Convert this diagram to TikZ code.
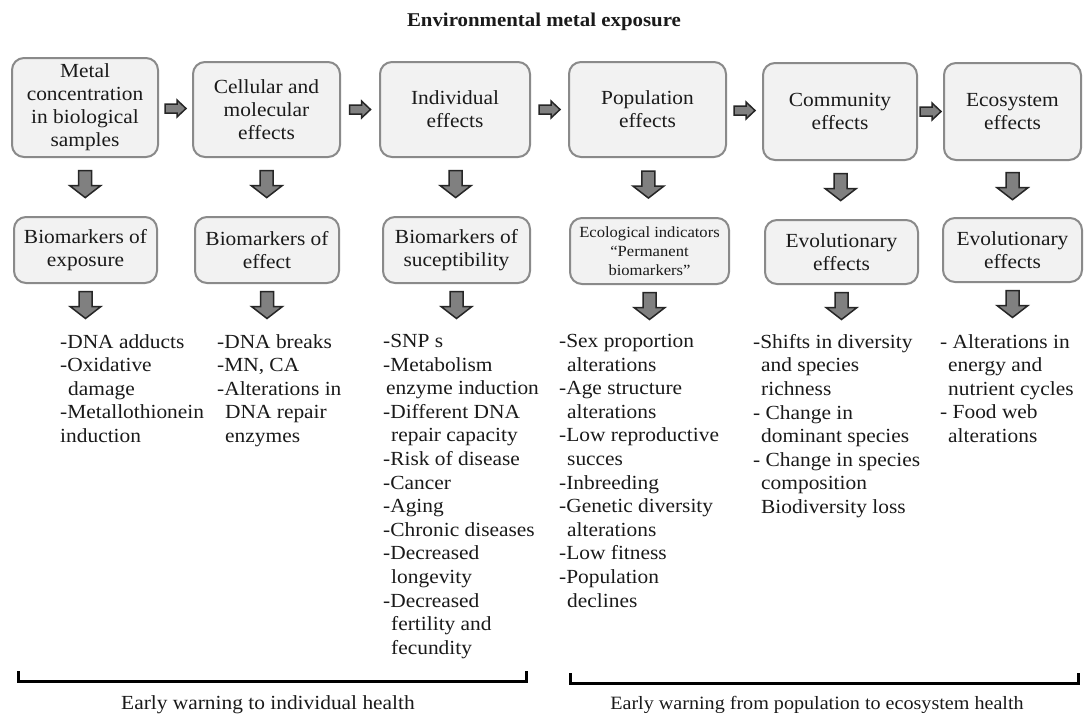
\documentclass[tikz,border=0pt]{standalone}
\usepackage{fontspec}
\setmainfont{Liberation Serif}[FakeStretch=1.07]
\usetikzlibrary{calc}
\definecolor{boxgray}{HTML}{8A8A8A}
\definecolor{boxfill}{HTML}{F2F2F2}
\definecolor{arrfill}{HTML}{808080}
\definecolor{arrline}{HTML}{262626}
\definecolor{txt}{HTML}{1A1A1A}
\newcommand{\lind}{\hspace*{8pt}}
\begin{document}
\begin{tikzpicture}[x=1pt,y=-1pt,
  every node/.style={text=txt},
  topbox/.style={draw=boxgray, line width=2pt, fill=boxfill, rounded corners=12pt,
    align=center, inner sep=0pt, font=\fontsize{20}{23}\selectfont},
  listtext/.style={anchor=north west, align=left, inner sep=0pt,
    font=\fontsize{20}{23.6}\selectfont},
  rarr/.pic={\draw[fill=arrfill, draw=arrline, line width=1.5pt, line join=miter]
    (-10.5,-4.5) -- (1.5,-4.5) -- (1.5,-8.5) -- (10.5,0) -- (1.5,8.5) -- (1.5,4.5) -- (-10.5,4.5) -- cycle;},
  darr/.pic={\draw[fill=arrfill, draw=arrline, line width=1.5pt, line join=miter]
    (-6.5,-13.5) -- (6.5,-13.5) -- (6.5,1.5) -- (15.5,1.5) -- (0,13.5) -- (-15.5,1.5) -- (-6.5,1.5) -- cycle;}
]
\fill[white] (0,0) rectangle (1084,715);

\node[font=\bfseries\fontsize{19.5}{22}\selectfont] (title) at (544,22) {Environmental metal exposure};

% top row
\node[topbox, minimum width=146pt, minimum height=99pt] (B1) at (85,107.5) {Metal\\concentration\\in biological\\samples};
\node[topbox, minimum width=147pt, minimum height=95pt] (B2) at (266.5,109.5) {Cellular and\\molecular\\effects};
\node[topbox, minimum width=150pt, minimum height=95pt] (B3) at (455,109.5) {Individual\\effects};
\node[topbox, minimum width=157pt, minimum height=95pt] (B4) at (647.5,109.5) {Population\\effects};
\node[topbox, minimum width=154pt, minimum height=97pt] (B5) at (840,111.5) {Community\\effects};
\node[topbox, minimum width=137pt, minimum height=97pt] (B6) at (1012.5,111.5) {Ecosystem\\effects};

% second row
\node[topbox, minimum width=143pt, minimum height=66pt] (b1) at (85.5,250) {Biomarkers of\\exposure};
\node[topbox, minimum width=144pt, minimum height=66pt] (b2) at (267,250) {Biomarkers of\\effect};
\node[topbox, minimum width=147pt, minimum height=66pt] (b3) at (456.5,250) {Biomarkers of\\suceptibility};
\node[topbox, minimum width=159pt, minimum height=66pt, font=\fontsize{15.5}{19}\selectfont] (b4) at (649.5,251) {Ecological indicators\\“Permanent\\biomarkers”};
\node[topbox, minimum width=153pt, minimum height=64pt] (b5) at (841.5,252) {Evolutionary\\effects};
\node[topbox, minimum width=139pt, minimum height=64pt] (b6) at (1012.5,250) {Evolutionary\\effects};

% right arrows between top boxes
\pic at ($(B1.east)!0.5!(B2.west)$) {rarr};
\pic at ($(B2.east)!0.5!(B3.west)$) {rarr};
\pic at ($(B3.east)!0.5!(B4.west)$) {rarr};
\pic at ($(B4.east)!0.5!(B5.west)$) {rarr};
\pic at ($(B5.east)!0.5!(B6.west)$) {rarr};

% down arrows
\foreach \i in {1,...,6}{
  \pic at ($(B\i.south)!0.45!(b\i.north)$) {darr};
  \pic at ($(b\i.south)+(0,21)$) {darr};
}

% lists
\node[listtext] (L1) at (60,334) {-DNA adducts\\-Oxidative\\\lind damage\\-Metallothionein\\induction};
\node[listtext] (L2) at (217,334) {-DNA breaks\\-MN, CA\\-Alterations in\\\lind DNA repair\\\lind enzymes};
\node[listtext] (L3) at (383,334) {-SNP s\\-Metabolism\\\hspace*{3pt}enzyme induction\\-Different DNA\\\lind repair capacity\\-Risk of disease\\-Cancer\\-Aging\\-Chronic diseases\\-Decreased\\\lind longevity\\-Decreased\\\lind fertility and\\\lind fecundity};
\node[listtext] (L4) at (559,334) {-Sex proportion\\\lind alterations\\-Age structure\\\lind alterations\\-Low reproductive\\\lind succes\\-Inbreeding\\-Genetic diversity\\\lind alterations\\-Low fitness\\-Population\\\lind declines};
\node[listtext] (L5) at (753,334) {-Shifts in diversity\\\lind and species\\\lind richness\\- Change in\\\lind dominant species\\- Change in species\\\lind composition\\\lind Biodiversity loss};
\node[listtext] (L6) at (940,334) {- Alterations in\\\lind energy and\\\lind nutrient cycles\\- Food web\\\lind alterations};

% brackets
\draw[line width=3pt, line cap=butt] (18,671) -- (18,681) -- (526,681) -- (526,671);
\draw[line width=3pt, line cap=butt] (570,673) -- (570,683) -- (1078,683) -- (1078,673);

\node[font=\fontsize{20}{22}\selectfont] (E1) at (268,705) {Early warning to individual health};
\node[font=\fontsize{18.8}{22}\selectfont] (E2) at (817,705) {Early warning from population to ecosystem health};
\end{tikzpicture}
\end{document}
